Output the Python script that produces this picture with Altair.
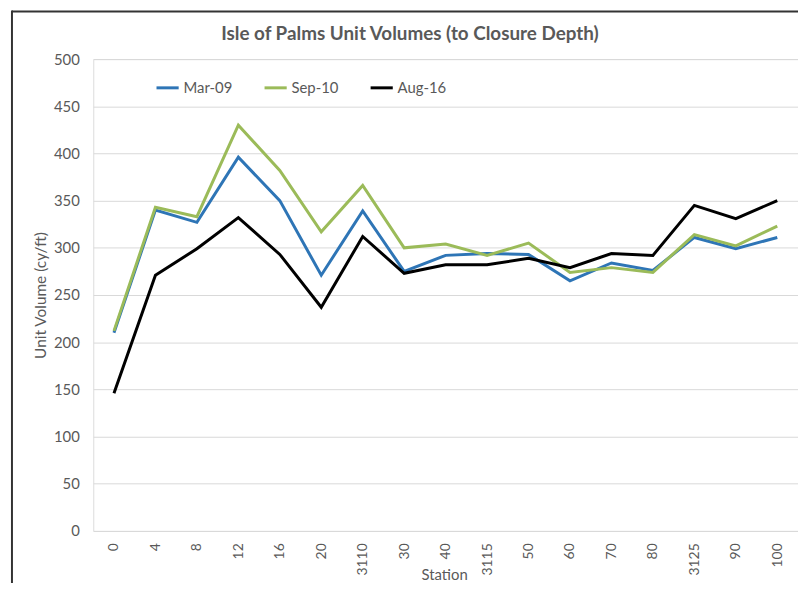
import altair as alt
import pandas as pd

stations = ["0", "4", "8", "12", "16", "20", "3110", "30", "40", "3115",
            "50", "60", "70", "80", "3125", "90", "100"]
mar09 = [210, 340, 327, 396, 350, 271, 339, 275, 292, 294, 293, 265, 284, 276, 311, 299, 311]
sep10 = [212, 343, 333, 430, 382, 317, 366, 300, 304, 292, 305, 274, 279, 274, 314, 302, 323]
aug16 = [146, 271, 299, 332, 293, 237, 312, 273, 282, 282, 289, 279, 294, 292, 345, 331, 350]
series_names = ["Mar-09", "Sep-10", "Aug-16"]
series_colors = ["#2E75B6", "#9BBB59", "#000000"]

rows = []
for name, vals in zip(series_names, [mar09, sep10, aug16]):
    for s, v in zip(stations, vals):
        rows.append({"Station": s, "Value": v, "Series": name})
df = pd.DataFrame(rows)

FONT = "Lato"
GRAY = "#595959"

lines = alt.Chart(df).mark_line(strokeWidth=3, clip=False).encode(
    x=alt.X("Station:N", sort=stations, scale=alt.Scale(paddingInner=0, paddingOuter=0),
            axis=alt.Axis(title="Station", labelAngle=270, labelAlign="right",
                          labelBaseline="middle", labelPadding=12, ticks=False,
                          domain=False, grid=False, labelColor=GRAY, labelFontSize=14,
                          labelFont=FONT, titleFont=FONT, titleFontSize=15,
                          titleFontWeight="normal", titleColor=GRAY,
                          titleX=354, titleY=44, titleBaseline="middle",
                          titleAlign="center")),
    y=alt.Y("Value:Q", scale=alt.Scale(domain=[0, 500], nice=False),
            axis=alt.Axis(title="Unit Volume (cy/ft)", values=list(range(0, 501, 50)),
                          ticks=False, domain=False, gridColor="#D9D9D9", gridWidth=1,
                          labelColor=GRAY, labelFontSize=15, labelFont=FONT,
                          labelPadding=14, titleFont=FONT, titleFontSize=15.5,
                          titleFontWeight="normal", titleColor=GRAY,
                          titleX=-53, titleY=238, titleAngle=270,
                          titleBaseline="middle", titleAlign="center")),
    color=alt.Color("Series:N", sort=series_names,
                    scale=alt.Scale(domain=series_names, range=series_colors),
                    legend=alt.Legend(title=None, orient="none", direction="horizontal",
                                      legendX=62, legendY=16, symbolType="stroke",
                                      symbolStrokeWidth=3, symbolSize=500,
                                      labelFont=FONT, labelFontSize=15, labelColor=GRAY,
                                      labelOffset=3, columnPadding=25)),
)

frame_df = pd.DataFrame({"k": [0]})
left_border = alt.Chart(frame_df).mark_rule(color="#333333", strokeWidth=2, clip=False).encode(
    x=alt.value(-82), y=alt.value(-49), y2=alt.value(540))
top_border = alt.Chart(frame_df).mark_rule(color="#333333", strokeWidth=2, clip=False).encode(
    x=alt.value(-82), x2=alt.value(720), y=alt.value(-48))

chart = alt.layer(lines, left_border, top_border).properties(
    width=711, height=476,
    title=alt.TitleParams("Isle of Palms Unit Volumes (to Closure Depth)",
                          font=FONT, fontSize=19, fontWeight="bold", color=GRAY,
                          anchor="middle", frame="group", dx=-36, offset=0,
                          baseline="alphabetic", dy=50),
    autosize=alt.AutoSizeParams(type="none"),
    padding={"left": 86, "top": 49, "right": 0, "bottom": 50},
).configure_view(stroke=None).configure(background="white")

chart.save("out.html", embed_options={"renderer": "svg", "actions": False})
